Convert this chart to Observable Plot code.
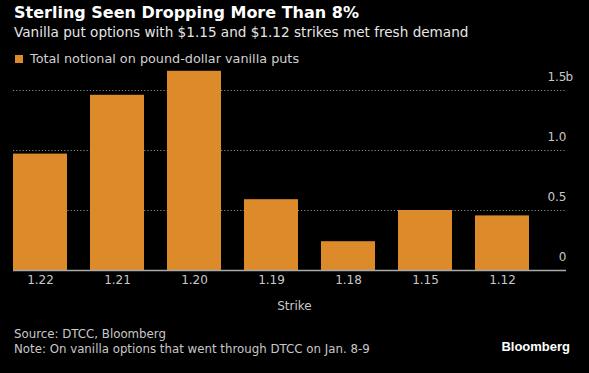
<!DOCTYPE html>
<html><head><meta charset="utf-8">
<script src="https://cdn.jsdelivr.net/npm/d3@7"></script>
<script src="https://cdn.jsdelivr.net/npm/@observablehq/plot@0.6"></script>
<style>
body{margin:0;background:#000;width:589px;height:373px;overflow:hidden;font-family:"DejaVu Sans",sans-serif;}
#wrap{position:relative;width:589px;height:373px;background:#000;}
.abs{position:absolute;white-space:nowrap;}
</style></head><body>
<div id="wrap">
  <div class="abs" style="left:14px;top:4px;font-size:16px;font-weight:bold;color:#fff;line-height:18px;">Sterling Seen Dropping More Than 8%</div>
  <div class="abs" style="left:14px;top:23px;font-size:13.6px;color:#e6e6e6;line-height:18px;">Vanilla put options with $1.15 and $1.12 strikes met fresh demand</div>
  <div class="abs" style="left:15px;top:55px;width:8px;height:8px;background:#DD8A2A;"></div>
  <div class="abs" style="left:30px;top:51px;font-size:12.8px;color:#d0d0d0;line-height:16px;">Total notional on pound-dollar vanilla puts</div>
  <div id="chart" class="abs" style="left:0;top:68px;"></div>
  <div class="abs" style="left:14px;top:327px;font-size:11.8px;color:#c8c8c8;line-height:15px;">Source: DTCC, Bloomberg<br>Note: On vanilla options that went through DTCC on Jan. 8-9</div>
  <div class="abs" style="right:19px;top:338px;font-size:13px;font-weight:bold;color:#fff;line-height:18px;font-family:'Liberation Sans',sans-serif;">Bloomberg</div>
</div>
<script>
const strikes = ["1.22", "1.21", "1.20", "1.19", "1.18", "1.15", "1.12"];
const notional = [0.97, 1.46, 1.66, 0.59, 0.24, 0.50, 0.455];
const yTicks = [0, 0.5, 1, 1.5];
const yTickLabels = ["0", "0.5", "1.0", "1.5"];
const yUnit = "b";
const xLabel = "Strike";

const data = strikes.map((s, i) => ({strike: s, value: notional[i]}));
const ticks = yTicks.map((v, i) => ({v, label: yTickLabels[i]}));

const chart = Plot.plot({
  width: 589,
  height: 250,
  marginLeft: 13,
  marginRight: 23,
  marginTop: 22,
  marginBottom: 48,
  style: {background: "transparent", color: "#bbb", fontFamily: "DejaVu Sans, sans-serif", fontSize: "12px"},
  x: {domain: strikes, paddingInner: 0.3, paddingOuter: 0, insetRight: 37, axis: null},
  y: {domain: [0, 1.5], axis: null},
  marks: [
    Plot.ruleY(yTicks.filter(d => d > 0), {stroke: "#8a8a8a", strokeDasharray: "1.2,2"}),
    Plot.barY(data, {x: "strike", y: "value", fill: "#DD8A2A"}),
    Plot.ruleY([0], {stroke: "#aaa", strokeWidth: 1.5}),
    Plot.text(ticks, {y: "v", text: "label", frameAnchor: "right", textAnchor: "end", dy: -13, fill: "#c8c8c8", fontSize: 12}),
    Plot.text([yTicks[yTicks.length - 1]], {y: d => d, text: () => yUnit, frameAnchor: "right", textAnchor: "start", dx: -1, dy: -13, fill: "#c8c8c8", fontSize: 12}),
    Plot.text(data, {x: "strike", text: "strike", frameAnchor: "bottom", dy: 13, fill: "#c8c8c8", fontSize: 12}),
    Plot.text([xLabel], {text: d => d, frameAnchor: "bottom", dx: 4.5, dy: 39, fill: "#c8c8c8", fontSize: 12})
  ]
});
document.getElementById("chart").appendChild(chart);
</script>
</body></html>
